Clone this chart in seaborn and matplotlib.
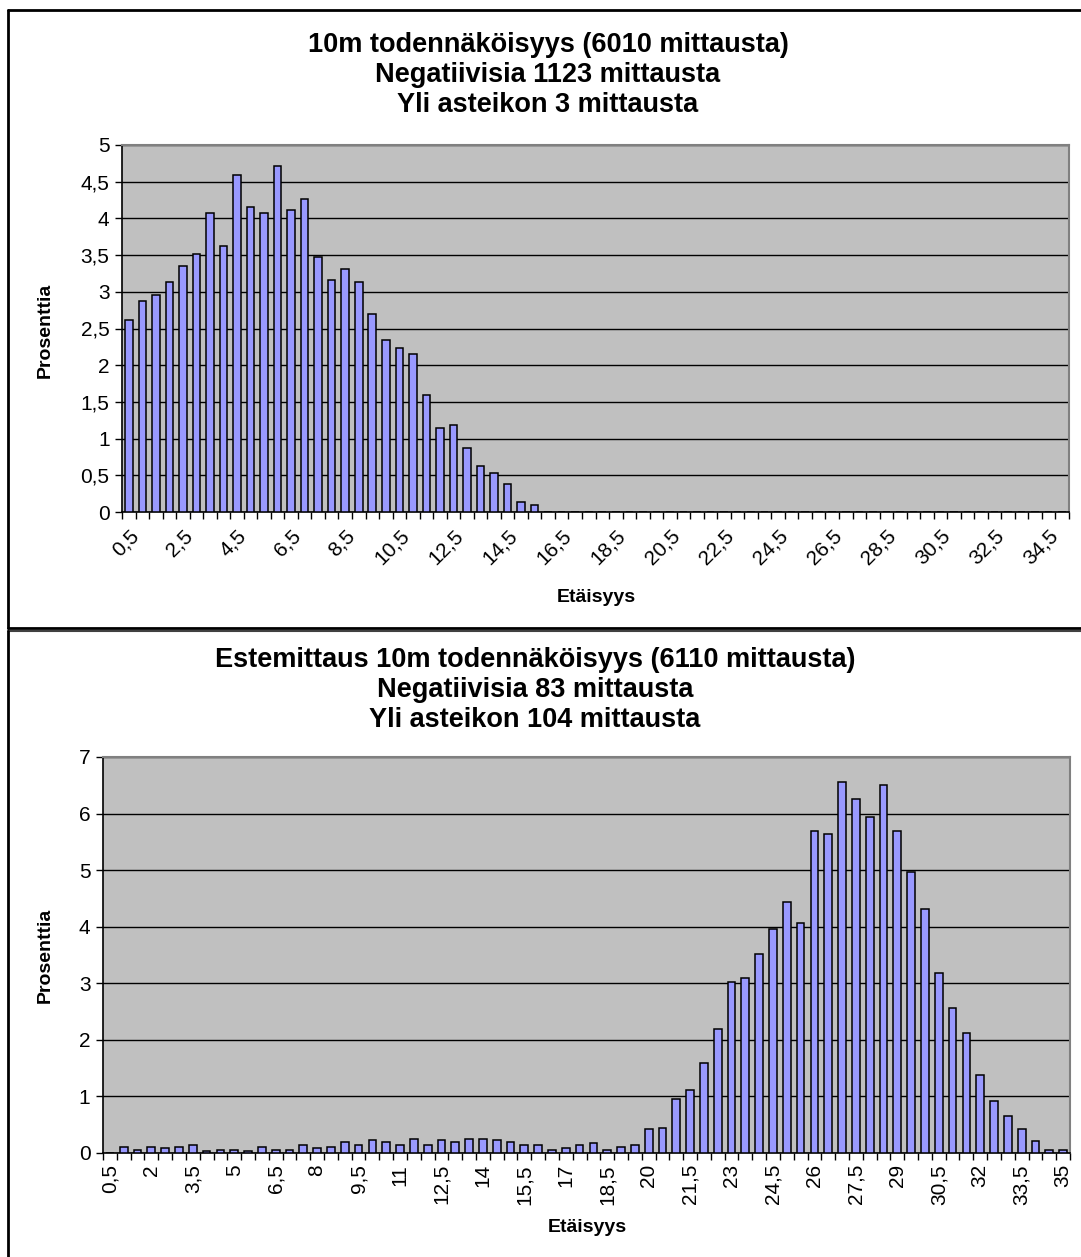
import matplotlib
matplotlib.use("Agg")
import matplotlib.pyplot as plt
import seaborn as sns
import pandas as pd
import numpy as np

sns.set_theme(style="white")
plt.rcParams["font.family"] = ["Liberation Sans", "DejaVu Sans"]
plt.rcParams["text.color"] = "black"
plt.rcParams["xtick.color"] = "black"
plt.rcParams["ytick.color"] = "black"
plt.rcParams["axes.labelcolor"] = "black"

# Distance classes (m), 0.5 m bins
distances = list(np.arange(0.5, 35.01, 0.5))

# 10 m probability, share of measurements per bin (%)
top_percent = [2.62, 2.88, 2.95, 3.13, 3.35, 3.51, 4.08, 3.63, 4.59, 4.16,
               4.08, 4.71, 4.12, 4.26, 3.47, 3.16, 3.31, 3.13, 2.70, 2.35,
               2.23, 2.15, 1.60, 1.14, 1.18, 0.87, 0.62, 0.53, 0.38, 0.14,
               0.10, 0, 0, 0, 0, 0, 0, 0, 0, 0,
               0, 0, 0, 0, 0, 0, 0, 0, 0, 0,
               0, 0, 0, 0, 0, 0, 0, 0, 0, 0,
               0, 0, 0, 0, 0, 0, 0, 0, 0, 0]

# Obstacle measurement, 10 m probability (%)
bottom_percent = [0, 0.11, 0.06, 0.11, 0.08, 0.11, 0.14, 0.04, 0.06, 0.06,
                  0.04, 0.11, 0.06, 0.06, 0.14, 0.08, 0.11, 0.19, 0.14, 0.23,
                  0.19, 0.14, 0.25, 0.14, 0.23, 0.20, 0.25, 0.25, 0.23, 0.20,
                  0.14, 0.14, 0.06, 0.08, 0.14, 0.17, 0.06, 0.11, 0.14, 0.42,
                  0.44, 0.95, 1.11, 1.59, 2.19, 3.02, 3.10, 3.51, 3.96, 4.43,
                  4.07, 5.70, 5.64, 6.56, 6.25, 5.94, 6.50, 5.70, 4.97, 4.31,
                  3.18, 2.57, 2.13, 1.38, 0.92, 0.66, 0.42, 0.22, 0.06, 0.06]

top_title = ["10m todennäköisyys (6010 mittausta)",
             "Negatiivisia 1123 mittausta",
             "Yli asteikon 3 mittausta"]
bottom_title = ["Estemittaus 10m todennäköisyys (6110 mittausta)",
                "Negatiivisia 83 mittausta",
                "Yli asteikon 104 mittausta"]
x_title = "Etäisyys"
y_title = "Prosenttia"


def fi(v):
    """Finnish number format: decimal comma, no trailing zeros."""
    return f"{v:g}".replace(".", ",")


cat_labels = [fi(d) for d in distances]

W, H = 1081, 1257
fig = plt.figure(figsize=(W / 100, H / 100), dpi=100)
fig.patch.set_facecolor("white")


def px_axes(left, top, right, bottom):
    return fig.add_axes([left / W, 1 - bottom / H, (right - left) / W, (bottom - top) / H])


# chart-area frames
bg = fig.add_axes([0, 0, 1, 1], zorder=-5)
bg.set_xlim(0, W)
bg.set_ylim(H, 0)
bg.axis("off")
bg.plot([8, W + 5], [10, 10], color="black", lw=2)
bg.plot([8, 8], [10, 628], color="black", lw=2)
bg.plot([8, W + 5], [628, 628], color="black", lw=2)
bg.plot([8, W + 5], [631, 631], color="#404040", lw=1.5)
bg.plot([8, 8], [631, H + 5], color="black", lw=2)


def draw(ax, values, ymax, ystep, label_every, rotation):
    df = pd.DataFrame({"dist": cat_labels, "pct": values})
    sns.barplot(data=df, x="dist", y="pct", order=cat_labels, color="#9999FF",
                saturation=1, width=0.56, edgecolor="black", linewidth=1.1,
                ax=ax, zorder=3)
    ax.set_facecolor("#C0C0C0")
    ax.set_xlim(-0.5, len(cat_labels) - 0.5)
    ax.set_ylim(0, ymax)
    yt = np.arange(0, ymax + 1e-9, ystep)
    ax.set_yticks(yt)
    ax.set_yticklabels([fi(round(v, 2)) for v in yt], fontsize=15)
    ax.grid(axis="y", color="black", linewidth=1, zorder=1)
    ax.grid(axis="x", visible=False)
    ax.set_axisbelow(True)

    idx = list(range(0, len(cat_labels), label_every))
    ax.set_xticks(idx)
    if rotation == 45:
        ax.set_xticklabels([cat_labels[i] for i in idx], rotation=45, ha="right",
                           rotation_mode="anchor", fontsize=15)
        ax.tick_params(axis="x", which="major", length=0, pad=10)
    else:
        ax.set_xticklabels([cat_labels[i] for i in idx], rotation=90, fontsize=15)
        ax.tick_params(axis="x", which="major", length=0, pad=8)
    ax.set_xticks(np.arange(-0.5, len(cat_labels), 1.0), minor=True)
    ax.tick_params(axis="x", which="minor", length=5, width=1, color="black",
                   direction="out", bottom=True)
    ax.tick_params(axis="y", length=5, width=1, color="black", direction="out",
                   left=True, pad=4)

    for s in ("left", "bottom"):
        ax.spines[s].set_color("black")
        ax.spines[s].set_linewidth(1.2)
    for s in ("top", "right"):
        ax.spines[s].set_color("#808080")
        ax.spines[s].set_linewidth(1.5)
    ax.set_xlabel("")
    ax.set_ylabel("")


ax1 = px_axes(122, 145, 1069, 512)
draw(ax1, top_percent, 5, 0.5, 4, 45)
ax2 = px_axes(103, 757, 1070, 1153)
draw(ax2, bottom_percent, 7, 1, 3, 90)

for i, line in enumerate(top_title):
    fig.text(548 / W, 1 - (45 + 30 * i) / H, line, ha="center", va="center",
             fontsize=19.5, fontweight="bold")
for i, line in enumerate(bottom_title):
    fig.text(535 / W, 1 - (660 + 30 * i) / H, line, ha="center", va="center",
             fontsize=19.5, fontweight="bold")

fig.text(596 / W, 1 - 598 / H, x_title, ha="center", va="center",
         fontsize=14, fontweight="bold")
fig.text(587 / W, 1 - 1228 / H, x_title, ha="center", va="center",
         fontsize=14, fontweight="bold")
fig.text(45 / W, 1 - 330 / H, y_title, ha="center", va="center", rotation=90,
         fontsize=14, fontweight="bold")
fig.text(45 / W, 1 - 955 / H, y_title, ha="center", va="center", rotation=90,
         fontsize=14, fontweight="bold")

fig.savefig("out.png", dpi=100, facecolor="white")
